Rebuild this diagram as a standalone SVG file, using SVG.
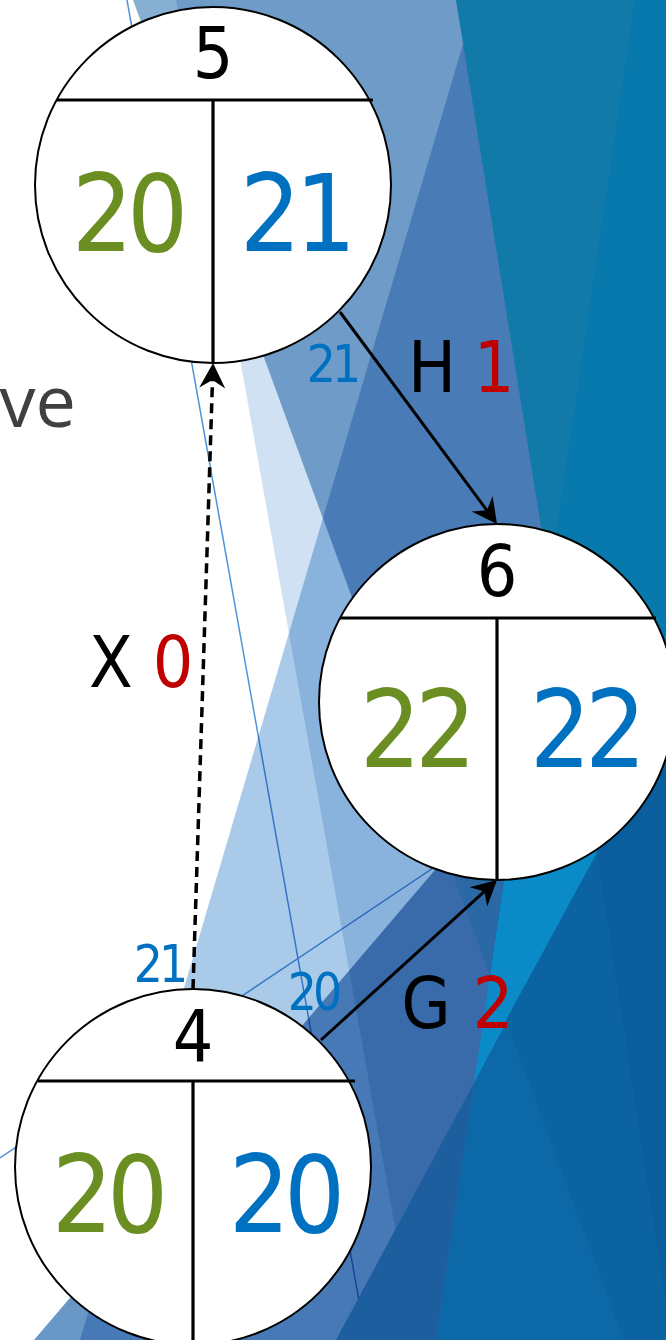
<svg xmlns="http://www.w3.org/2000/svg" width="666" height="1340" viewBox="0 0 666 1340">
<style>
.t{font-family:'DejaVu Sans Condensed','DejaVu Sans',sans-serif;font-stretch:condensed;text-anchor:middle}
.ring{fill:#fff;stroke:#000;stroke-width:2}
.div{stroke:#000;stroke-width:3.2;fill:none}
.conn{stroke:#000;stroke-width:3;fill:none}
.dash{stroke-dasharray:10 6;stroke-width:3.5}
.mul{mix-blend-mode:multiply}
.thin{stroke:#4f93d8;stroke-width:1.5;fill:none}
.g{fill:#6b8e23}.b{fill:#0070c0}.r{fill:#c00000}.k{fill:#000}
.big{font-size:107px;letter-spacing:-6px}.hd{font-size:71px}.lb{font-size:71px}.sm{font-size:51px;letter-spacing:-4px}
</style>
<defs>
<marker id="ah" markerUnits="userSpaceOnUse" viewBox="0 -14 26 28" refX="8" refY="0" markerWidth="26" markerHeight="28" orient="auto" overflow="visible">
<path d="M25,0 L0,-13 L8,0 L0,13 Z" fill="#000"/>
</marker>
</defs>
<g id="background">
<rect width="666" height="1340" fill="#fff"/>
<line class="thin" x1="127" y1="0" x2="366" y2="1340"/>
<line class="thin" x1="0" y1="1158" x2="460" y2="850"/>
<polygon class="mul" points="176,0 666,0 666,1340 415,1340" fill="#cfe1f2"/>
<polygon class="mul" points="133,0 666,0 666,1340 624,1340" fill="#87b0d2"/>
<polygon class="mul" points="476,0 666,0 666,1340 80,1340" fill="#a9cbe9"/>
<polygon class="mul" points="666,599 666,1340 34,1340" fill="#6a98c6"/>
<polygon points="446.5,856.5 520,770 490,975" fill="#2b69a6"/>
<polygon points="456,0 634,0 549,576" fill="#117aa8"/>
<polygon points="634,0 666,0 666,718 597,853 549,576" fill="#0779ad"/>
<polygon points="549,576 597,853 474,1083" fill="#0a8bc8"/>
<polygon points="474,1083 436,1340 336,1340" fill="#1c5e9e"/>
<polygon points="597,853 666,718 666,1340 436,1340 474,1083" fill="#0d68a8"/>
<polygon points="506,1020 597,853 666,1304 666,1340 624,1340" fill="#0b63a2"/>
<polygon points="597,853 666,718 666,1304" fill="#0a5e9d"/>
<text x="76" y="427" font-family="'Open Sans','DejaVu Sans',sans-serif" font-size="72" fill="#404040" text-anchor="end">ve</text>
</g>
<g id="connectors">
<line class="conn" x1="340" y1="312" x2="486.9" y2="510.3" marker-end="url(#ah)"/>
<line class="conn dash" x1="193" y1="989" x2="212.5" y2="380" marker-end="url(#ah)"/>
<line class="conn" x1="321" y1="1040" x2="484.4" y2="891.4" marker-end="url(#ah)"/>
<text class="t sm b" x="332" y="382">21</text>
<text class="t lb k" x="432" y="392">H</text>
<text class="t lb r" x="494" y="392">1</text>
<text class="t lb k" x="111" y="687">X</text>
<text class="t lb r" x="173" y="687">0</text>
<text class="t sm b" x="159" y="982">21</text>
<text class="t sm b" x="313" y="1010">20</text>
<text class="t lb k" x="426" y="1028">G</text>
<text class="t lb r" x="493" y="1028">2</text>
</g>
<g id="node5">
<circle class="ring" cx="213" cy="185" r="178"/>
<line class="div" x1="57" y1="100" x2="373" y2="100"/>
<line class="div" x1="213" y1="100" x2="213" y2="363"/>
<text class="t hd k" x="213" y="78">5</text>
<text class="t big g" x="127" y="251">20</text>
<text class="t big b" x="295" y="251">21</text>
</g>
<g id="node6">
<circle class="ring" cx="497" cy="702" r="178"/>
<line class="div" x1="340" y1="618" x2="656" y2="618"/>
<line class="div" x1="497" y1="618" x2="497" y2="880"/>
<text class="t hd k" x="497" y="596">6</text>
<text class="t big g" x="415" y="767">22</text>
<text class="t big b" x="585" y="767">22</text>
</g>
<g id="node4">
<circle class="ring" cx="193" cy="1167" r="178"/>
<line class="div" x1="38" y1="1081" x2="355" y2="1081"/>
<line class="div" x1="193" y1="1081" x2="193" y2="1345"/>
<text class="t hd k" x="193" y="1061">4</text>
<text class="t big g" x="107" y="1232">20</text>
<text class="t big b" x="284" y="1232">20</text>
</g>
</svg>
